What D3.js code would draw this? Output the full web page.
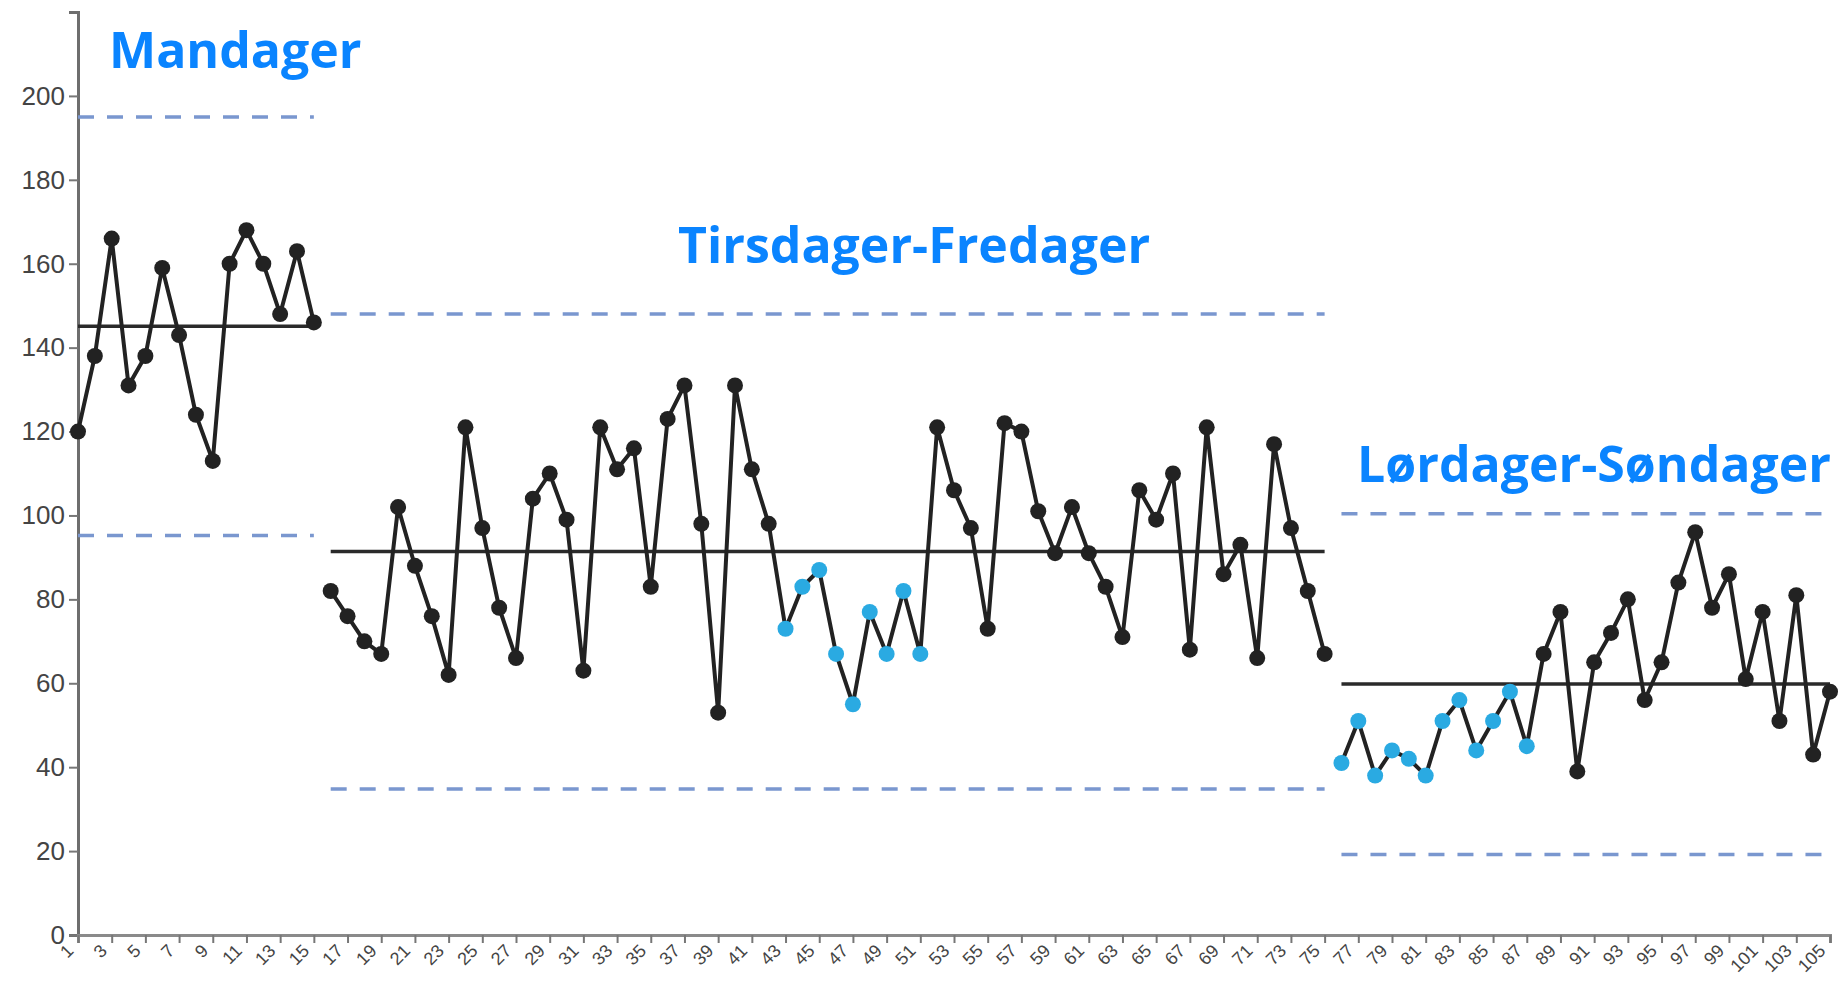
<!DOCTYPE html>
<html>
<head>
<meta charset="utf-8">
<script src="https://cdn.jsdelivr.net/npm/d3@7"></script>
<style>
  body { margin: 0; background: #fff; }
  svg { display: block; }
</style>
</head>
<body>
<svg id="chart" width="1844" height="981"></svg>
<script>
// Daily counts, split into three phases with their own control limits
const phaseNames = ["Mandager", "Tirsdager-Fredager", "Lørdager-Søndager"];
const phaseStart = [1, 16, 76];

const mandager = [120, 138, 166, 131, 138, 159, 143, 124, 113, 160, 168, 160, 148, 163, 146];

const tirsdagerFredager = [
  82, 76, 70, 67, 102, 88, 76, 62, 121, 97, 78, 66, 104, 110, 99,
  63, 121, 111, 116, 83, 123, 131, 98, 53, 131, 111, 98, 73, 83, 87,
  67, 55, 77, 67, 82, 67, 121, 106, 97, 73, 122, 120, 101, 91, 102,
  91, 83, 71, 106, 99, 110, 68, 121, 86, 93, 66, 117, 97, 82, 67
];

const lordagerSondager = [
  41, 51, 38, 44, 42, 38, 51, 56, 44, 51, 58, 45, 67, 77, 39,
  65, 72, 80, 56, 65, 84, 96, 78, 86, 61, 77, 51, 81, 43, 58
];

const centerLine = [145.1, 91.4, 59.8];
const upperLimit = [195.0, 148.0, 100.4];
const lowerLimit = [95.2, 34.8, 19.2];

// Points flagged by the run rules (drawn in light blue)
const signalPoints = [43, 44, 45, 46, 47, 48, 49, 50, 51,
  76, 77, 78, 79, 80, 81, 82, 83, 84, 85, 86, 87];

const yTicks = [0, 20, 40, 60, 80, 100, 120, 140, 160, 180, 200];
const xTicks = [1, 3, 5, 7, 9, 11, 13, 15, 17, 19, 21, 23, 25, 27, 29, 31, 33, 35, 37, 39,
  41, 43, 45, 47, 49, 51, 53, 55, 57, 59, 61, 63, 65, 67, 69, 71, 73, 75, 77, 79,
  81, 83, 85, 87, 89, 91, 93, 95, 97, 99, 101, 103, 105];

const series = [mandager, tirsdagerFredager, lordagerSondager];
const phases = series.map((vals, i) => ({
  name: phaseNames[i],
  points: vals.map((v, j) => ({ n: phaseStart[i] + j, v })),
  cl: centerLine[i], ucl: upperLimit[i], lcl: lowerLimit[i]
}));
const allN = phases.flatMap(p => p.points.map(d => d.n));

const W = 1844, H = 981;
const margin = { top: 12, right: 14, bottom: 46, left: 78 };

const svg = d3.select("#chart");

const x = d3.scalePoint()
  .domain(allN)
  .range([margin.left, W - margin.right]);

const y = d3.scaleLinear()
  .domain([0, 220])
  .range([H - margin.bottom, margin.top]);

// Axes
const yAxis = svg.append("g")
  .attr("transform", `translate(${margin.left},0)`)
  .call(d3.axisLeft(y).tickValues(yTicks).tickSize(9).tickPadding(4));
yAxis.select(".domain").attr("stroke", "#6e6e6e").attr("stroke-width", 3);
yAxis.selectAll(".tick line").attr("stroke", "#777").attr("stroke-width", 2);
yAxis.selectAll(".tick text")
  .attr("fill", "#444")
  .style("font-family", "'Liberation Sans', Arial, sans-serif")
  .style("font-size", "26px");

const xAxis = svg.append("g")
  .attr("transform", `translate(0,${H - margin.bottom})`)
  .call(d3.axisBottom(x).tickValues(xTicks).tickSize(8).tickSizeOuter(8));
xAxis.select(".domain").attr("stroke", "#8a8a8a").attr("stroke-width", 3);
xAxis.selectAll(".tick line").attr("stroke", "#777").attr("stroke-width", 2);
xAxis.selectAll(".tick text")
  .attr("fill", "#444")
  .style("font-family", "'Liberation Sans', Arial, sans-serif")
  .style("font-size", "18px")
  .style("text-anchor", "end")
  .attr("dy", null)
  .attr("y", 0)
  .attr("transform", "translate(-4,17) rotate(-45)");

// Control limits and centre lines
const limits = svg.append("g");
phases.forEach(p => {
  const x0 = x(p.points[0].n), x1 = x(p.points[p.points.length - 1].n);
  [p.ucl, p.lcl].forEach(v => {
    limits.append("line")
      .attr("x1", x0).attr("x2", x1)
      .attr("y1", y(v)).attr("y2", y(v))
      .attr("stroke", "#7a97cf")
      .attr("stroke-width", 3.5)
      .attr("stroke-dasharray", "16 13");
  });
  limits.append("line")
    .attr("x1", x0).attr("x2", x1)
    .attr("y1", y(p.cl)).attr("y2", y(p.cl))
    .attr("stroke", "#2a2a2a")
    .attr("stroke-width", 3.5);
});

// Data lines and markers
const line = d3.line().x(d => x(d.n)).y(d => y(d.v));
const marks = svg.append("g");
phases.forEach(p => {
  marks.append("path")
    .datum(p.points)
    .attr("d", line)
    .attr("fill", "none")
    .attr("stroke", "#222")
    .attr("stroke-width", 4)
    .attr("stroke-linejoin", "round");
  marks.selectAll(null)
    .data(p.points)
    .join("circle")
    .attr("cx", d => x(d.n))
    .attr("cy", d => y(d.v))
    .attr("r", 8)
    .attr("fill", d => signalPoints.includes(d.n) ? "#2aaae2" : "#222");
});

// Phase titles
const titlePos = [
  { x: 109, v: 206.7 },
  { x: 678, v: 160.2 },
  { x: 1357, v: 108.0 }
];
svg.append("g")
  .selectAll("text")
  .data(phases)
  .join("text")
  .attr("x", (d, i) => titlePos[i].x)
  .attr("y", (d, i) => y(titlePos[i].v))
  .attr("fill", "#0a84ff")
  .style("font-family", "'Open Sans', 'Noto Sans', sans-serif")
  .style("font-weight", 700)
  .style("font-size", "50px")
  .text(d => d.name);
</script>
</body>
</html>
